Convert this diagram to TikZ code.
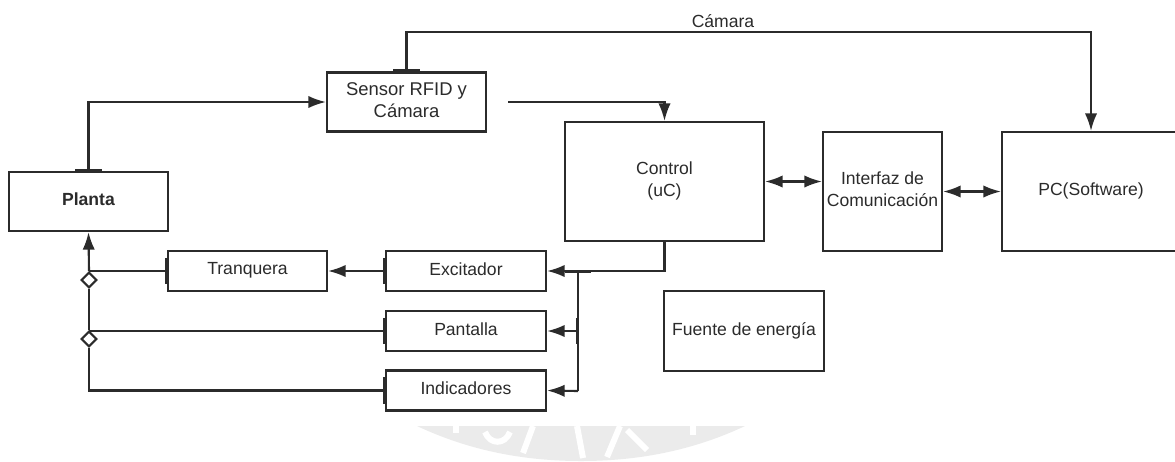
\documentclass[tikz,border=0pt]{standalone}
\usepackage{fontspec}
\setmainfont{Liberation Sans}
\usetikzlibrary{arrows.meta,shapes.geometric}
\definecolor{linea}{HTML}{2b2b2b}
\tikzset{
    bloque/.style={draw=linea,line width=1.2pt,fill=white,inner sep=0pt,align=center,text=linea,text depth=2.5pt,font=\fontsize{10pt}{12.5pt}\selectfont},
    flecha/.style={draw=linea,line width=1.2pt,-{Latex[length=10pt,width=7pt]}},
    doble/.style={draw=linea,line width=1.2pt,{Latex[length=10pt,width=7pt]}-{Latex[length=10pt,width=7pt]}},
    salida/.style={draw=linea,line width=1.2pt,{Bar[width=15pt,line width=1.4pt]}-{Latex[length=10pt,width=7pt]}},
    ramal/.style={draw=linea,line width=1.2pt,{Bar[width=15pt,line width=1.4pt]}-},
    rombo/.style={diamond,draw=linea,line width=1.2pt,fill=white,inner sep=0pt,minimum size=9pt},
    agua/.style={white,line width=3.4pt},
}
\begin{document}
\begin{tikzpicture}[x=0.02cm,y=-0.02cm]
    \useasboundingbox (0,0) rectangle (1175,461);
    % marca de agua
    \fill[black!8] (417,426) .. controls (470,451) and (525,461) .. (581,461) .. controls (637,461) and (692,451) .. (745,426) -- cycle;
    \draw[agua] (456,426) -- (456,433);
    \draw[agua] (485,432) .. controls (490,445) and (505,445) .. (510,432);
    \draw[agua] (533,426) -- (523,453);
    \draw[agua] (577,426) -- (583,458);
    \draw[agua] (620,426) -- (607,457);
    \draw[agua] (627,430) -- (647,450);
    \draw[agua] (693,426) -- (693,435);
    % bloques
    \node[bloque,minimum width=3.18cm,minimum height=1.18cm] (planta) at (88.5,201.5) {\textbf{Planta}};
    \node[bloque,minimum width=3.18cm,minimum height=1.18cm,font=\fontsize{10.5pt}{12.5pt}\selectfont] (sensor) at (406.5,102) {Sensor RFID y\\Cámara};
    \node[bloque,minimum width=3.98cm,minimum height=2.38cm] (control) at (664.5,181.5) {Control\\(uC)};
    \node[bloque,minimum width=2.38cm,minimum height=2.38cm] (interfaz) at (882.5,191.5) {Interfaz de\\Comunicación};
    \node[bloque,minimum width=3.56cm,minimum height=2.38cm] (pc) at (1091,191.5) {PC(Software)};
    \node[bloque,minimum width=3.18cm,minimum height=0.8cm] (tranquera) at (247.5,271) {Tranquera};
    \node[bloque,minimum width=3.2cm,minimum height=0.8cm] (excitador) at (466,271) {Excitador};
    \node[bloque,minimum width=3.2cm,minimum height=0.8cm] (pantalla) at (466,331) {Pantalla};
    \node[bloque,minimum width=3.2cm,minimum height=0.8cm] (indicadores) at (466,390.5) {Indicadores};
    \node[bloque,minimum width=3.2cm,minimum height=1.6cm] (fuente) at (744,331) {Fuente de energía};
    % puntos libres y rombos
    \coordinate (inicio) at (508,102);
    \coordinate (union) at (578,271);
    \coordinate (rama) at (578,331);
    \coordinate (esquina) at (578,391);
    \coordinate (cruce1) at (89,271);
    \coordinate (cruce2) at (89,331);
    \coordinate (alto) at (1091,32);
    \node[rombo] (rombo1) at (89,280) {};
    \node[rombo] (rombo2) at (89,339) {};
    \node[text=linea,font=\fontsize{10pt}{12.5pt}\selectfont] (etiqueta) at (723,21) {Cámara};
    % conexiones
    \draw[salida] (planta.north) |- (sensor.west);
    \draw[salida] (sensor.north) |- (alto) -- (pc.north);
    \draw[flecha] (inicio) -| (control.north);
    \draw[flecha] (control.south) |- (excitador.east);
    \draw[ramal] (union) -- (esquina);
    \draw[flecha] (esquina) -- (indicadores.east);
    \draw[salida] (rama) -- (pantalla.east);
    \draw[flecha] (rombo1.north) -- (planta.south);
    \draw[draw=linea,line width=1.2pt] (rombo2.north) -- (rombo1.south);
    \draw[salida] (excitador.west) -- (tranquera.east);
    \draw[ramal] (tranquera.west) -- (cruce1);
    \draw[ramal] (pantalla.west) -- (cruce2);
    \draw[ramal] (indicadores.west) -| (rombo2.south);
    \draw[doble] (control.east) -- (control.east -| interfaz.west);
    \draw[doble] (interfaz.east) -- (pc.west);
\end{tikzpicture}
\end{document}
